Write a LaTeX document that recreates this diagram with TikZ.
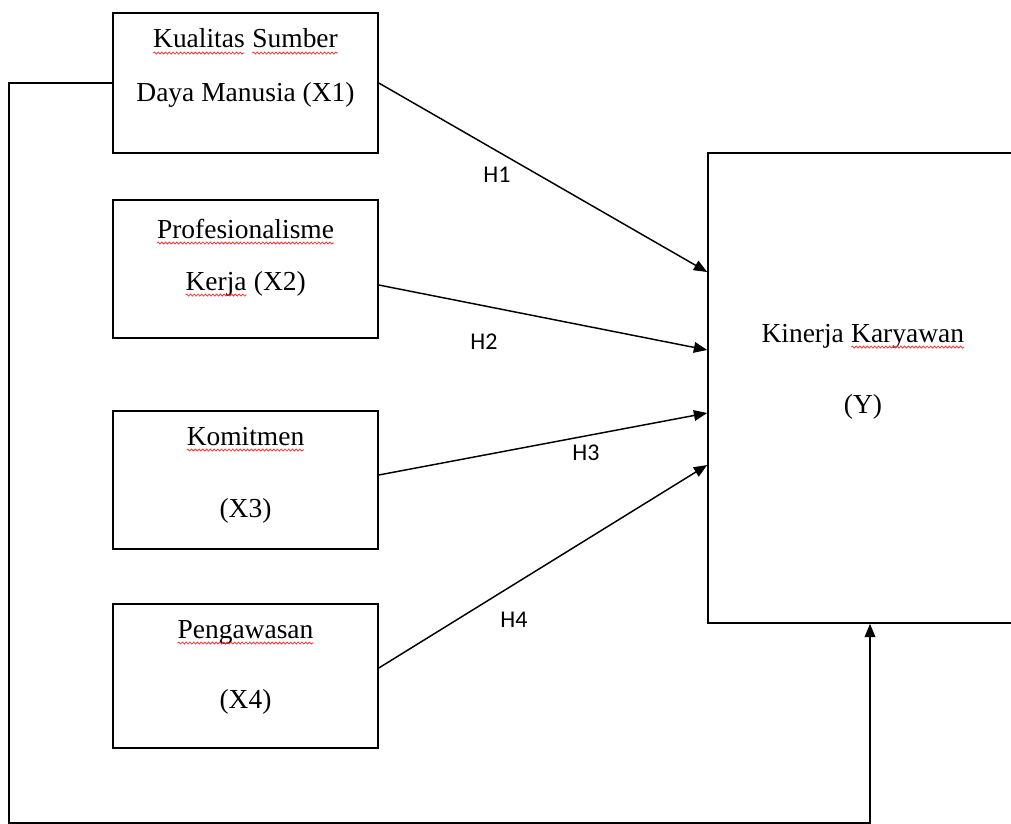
\documentclass[tikz,border=0pt]{standalone}
\usepackage{fontspec}
\setmainfont{Liberation Serif}
\newfontfamily\hfont{Carlito}
\usetikzlibrary{arrows.meta,decorations.pathmorphing}

% red wavy underline under a word
\newcommand{\spell}[1]{\tikz[baseline=(w.base),reset cm]{\node[inner sep=0pt,outer sep=0pt] (w) {#1};\draw[red!80,line width=0.6pt,decorate,decoration={snake,amplitude=0.75pt,segment length=2.8pt}] ([yshift=-3.8pt]w.base west) -- ([yshift=-3.8pt]w.base east);}}

\begin{document}
\begin{tikzpicture}[x=0.75pt,y=0.75pt,yscale=-1,xscale=1,
    box/.style={draw,line width=1.2pt,inner sep=0pt,minimum width=198.75pt},
    txt/.style={anchor=base,inner sep=0pt,font=\fontsize{20.6}{24}\selectfont},
    hyp/.style={inner sep=0pt,font=\hfont\fontsize{18}{20}\selectfont},
    arr/.style={line width=1.1pt,-{Triangle[length=10pt,width=8pt]}}]
\useasboundingbox (0,0) rectangle (1011,824);

%Boxes
\node[box,minimum height=105pt] (x1) at (245.5,83) {};
\node[box,minimum height=103.5pt] (x2) at (245.5,269) {};
\node[box,minimum height=103.5pt] (x3) at (245.5,480) {};
\node[box,minimum height=108pt] (x4) at (245.5,676) {};
\node[box,minimum width=232.5pt,minimum height=352.5pt] (y) at (863,388) {};

% Text Nodes
\node[txt] (t1a) at (245.5,48) {\spell{Kualitas} \spell{Sumber}};
\node[txt] (t1b) at (245.5,102) {Daya Manusia (X1)};
\node[txt] (t2a) at (245.5,238) {\spell{Profesionalisme}};
\node[txt] (t2b) at (245.5,290) {\spell{Kerja} (X2)};
\node[txt] (t3a) at (245.5,445) {\spell{Komitmen}};
\node[txt] (t3b) at (245.5,517) {(X3)};
\node[txt] (t4a) at (245.5,638) {\spell{Pengawasan}};
\node[txt] (t4b) at (245.5,708) {(X4)};
\node[txt] (tya) at (863,342) {Kinerja \spell{Karyawan}};
\node[txt] (tyb) at (863,413) {(Y)};

%Hypothesis labels
\node[hyp] (h1) at (497,175) {H1};
\node[hyp] (h2) at (484,342) {H2};
\node[hyp] (h3) at (586,453) {H3};
\node[hyp] (h4) at (514,620) {H4};

%Straight Lines
\draw[arr] (x1.east) -- (y.west |- 0,272);
\draw[arr] (x2.east |- 0,285) -- (y.west |- 0,350);
\draw[arr] (x3.east |- 0,475) -- (y.west |- 0,413);
\draw[arr] (x4.east |- 0,668) -- (y.west |- 0,465);

%Feedback line
\coordinate (fb1) at (9,83);
\coordinate (fb2) at (870,823);
\draw[arr] (x1.west) -- (fb1) |- (fb2) -- (fb2 |- y.south);

\end{tikzpicture}
\end{document}
